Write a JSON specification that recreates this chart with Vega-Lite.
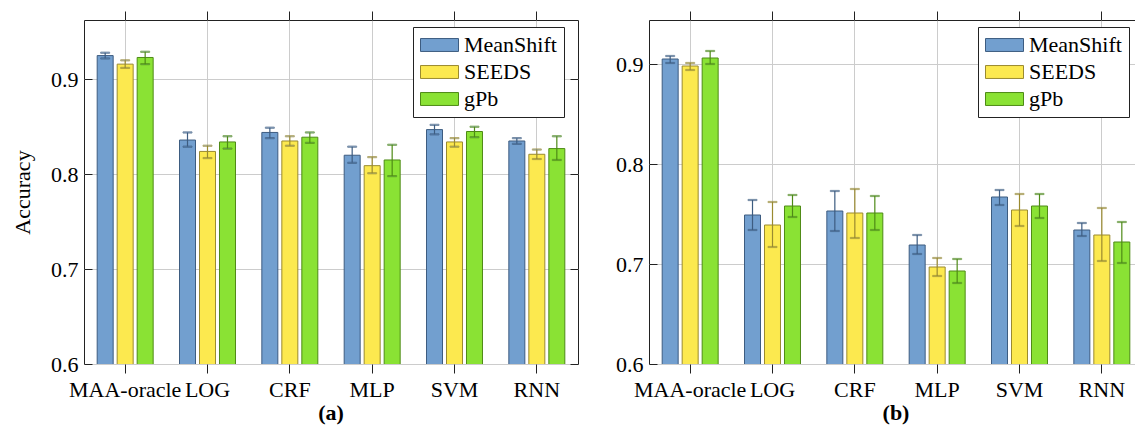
{
  "$schema": "https://vega.github.io/schema/vega-lite/v6.json",
  "padding": {"left": 11, "top": 10, "right": 0, "bottom": 0},
  "bounds": "flush",
  "spacing": 71,
  "datasets": {
    "d": [
      {"p": "a", "m": "MAA-oracle", "s": "MeanShift", "v": 0.925, "lo": 0.922, "hi": 0.928},
      {"p": "a", "m": "MAA-oracle", "s": "SEEDS", "v": 0.916, "lo": 0.912, "hi": 0.920},
      {"p": "a", "m": "MAA-oracle", "s": "gPb", "v": 0.923, "lo": 0.916, "hi": 0.929},
      {"p": "a", "m": "LOG", "s": "MeanShift", "v": 0.836, "lo": 0.829, "hi": 0.844},
      {"p": "a", "m": "LOG", "s": "SEEDS", "v": 0.824, "lo": 0.817, "hi": 0.830},
      {"p": "a", "m": "LOG", "s": "gPb", "v": 0.834, "lo": 0.827, "hi": 0.840},
      {"p": "a", "m": "CRF", "s": "MeanShift", "v": 0.844, "lo": 0.838, "hi": 0.849},
      {"p": "a", "m": "CRF", "s": "SEEDS", "v": 0.835, "lo": 0.830, "hi": 0.840},
      {"p": "a", "m": "CRF", "s": "gPb", "v": 0.839, "lo": 0.833, "hi": 0.844},
      {"p": "a", "m": "MLP", "s": "MeanShift", "v": 0.820, "lo": 0.812, "hi": 0.829},
      {"p": "a", "m": "MLP", "s": "SEEDS", "v": 0.809, "lo": 0.801, "hi": 0.818},
      {"p": "a", "m": "MLP", "s": "gPb", "v": 0.815, "lo": 0.798, "hi": 0.831},
      {"p": "a", "m": "SVM", "s": "MeanShift", "v": 0.847, "lo": 0.842, "hi": 0.852},
      {"p": "a", "m": "SVM", "s": "SEEDS", "v": 0.834, "lo": 0.829, "hi": 0.838},
      {"p": "a", "m": "SVM", "s": "gPb", "v": 0.845, "lo": 0.839, "hi": 0.850},
      {"p": "a", "m": "RNN", "s": "MeanShift", "v": 0.835, "lo": 0.832, "hi": 0.838},
      {"p": "a", "m": "RNN", "s": "SEEDS", "v": 0.821, "lo": 0.816, "hi": 0.826},
      {"p": "a", "m": "RNN", "s": "gPb", "v": 0.827, "lo": 0.815, "hi": 0.840},
      {"p": "b", "m": "MAA-oracle", "s": "MeanShift", "v": 0.905, "lo": 0.901, "hi": 0.908},
      {"p": "b", "m": "MAA-oracle", "s": "SEEDS", "v": 0.898, "lo": 0.894, "hi": 0.901},
      {"p": "b", "m": "MAA-oracle", "s": "gPb", "v": 0.906, "lo": 0.900, "hi": 0.913},
      {"p": "b", "m": "LOG", "s": "MeanShift", "v": 0.749, "lo": 0.734, "hi": 0.764},
      {"p": "b", "m": "LOG", "s": "SEEDS", "v": 0.739, "lo": 0.717, "hi": 0.762},
      {"p": "b", "m": "LOG", "s": "gPb", "v": 0.758, "lo": 0.747, "hi": 0.769},
      {"p": "b", "m": "CRF", "s": "MeanShift", "v": 0.753, "lo": 0.733, "hi": 0.773},
      {"p": "b", "m": "CRF", "s": "SEEDS", "v": 0.751, "lo": 0.726, "hi": 0.775},
      {"p": "b", "m": "CRF", "s": "gPb", "v": 0.751, "lo": 0.734, "hi": 0.768},
      {"p": "b", "m": "MLP", "s": "MeanShift", "v": 0.719, "lo": 0.710, "hi": 0.729},
      {"p": "b", "m": "MLP", "s": "SEEDS", "v": 0.697, "lo": 0.688, "hi": 0.706},
      {"p": "b", "m": "MLP", "s": "gPb", "v": 0.693, "lo": 0.681, "hi": 0.705},
      {"p": "b", "m": "SVM", "s": "MeanShift", "v": 0.767, "lo": 0.759, "hi": 0.774},
      {"p": "b", "m": "SVM", "s": "SEEDS", "v": 0.754, "lo": 0.738, "hi": 0.770},
      {"p": "b", "m": "SVM", "s": "gPb", "v": 0.758, "lo": 0.746, "hi": 0.770},
      {"p": "b", "m": "RNN", "s": "MeanShift", "v": 0.734, "lo": 0.728, "hi": 0.741},
      {"p": "b", "m": "RNN", "s": "SEEDS", "v": 0.729, "lo": 0.703, "hi": 0.756},
      {"p": "b", "m": "RNN", "s": "gPb", "v": 0.722, "lo": 0.701, "hi": 0.742}
    ]
  },
  "data": {"name": "d"},
  "resolve": {"scale": {"fill": "independent", "stroke": "independent"}, "legend": {"fill": "independent", "stroke": "independent"}},
  "hconcat": [
    {
      "width": 494,
      "height": 344,
      "title": {"text": "(a)", "orient": "bottom", "anchor": "middle", "font": "Liberation Serif", "fontSize": 22, "fontWeight": "bold", "color": "black", "offset": 3},
      "transform": [{"filter": "datum.p === 'a'"}],
      "resolve": {"axis": {"x": "independent", "y": "independent"}},
      "layer": [
        {
          "mark": {"type": "bar", "strokeWidth": 1, "clip": true},
          "encoding": {
            "x": {"field": "m", "type": "nominal", "sort": ["MAA-oracle", "LOG", "CRF", "MLP", "SVM", "RNN"], "title": null, "scale": {"paddingInner": 0.32, "paddingOuter": 0.16}, "axis": {"orient": "bottom", "labelAngle": 0, "tickSize": 9, "labelPadding": 6, "grid": true, "labelFont": "Liberation Serif"}},
            "xOffset": {"field": "s", "type": "nominal", "sort": ["MeanShift", "SEEDS", "gPb"], "scale": {"paddingInner": 0.2, "paddingOuter": 0}},
            "y": {"field": "v", "type": "quantitative", "title": "Accuracy", "scale": {"domain": [0.6, 0.9625], "zero": false, "nice": false}, "axis": {"orient": "left", "values": [0.6, 0.7, 0.8, 0.9], "format": ".1f", "tickSize": -8, "labelPadding": 14, "grid": true, "titlePadding": 16, "labelFont": "Liberation Serif"}},
            "fill": {"field": "s", "type": "nominal", "sort": ["MeanShift", "SEEDS", "gPb"], "scale": {"domain": ["MeanShift", "SEEDS", "gPb"], "range": ["#729fcf", "#fce94f", "#8ae234"]}, "legend": {}},
            "stroke": {"field": "s", "type": "nominal", "sort": ["MeanShift", "SEEDS", "gPb"], "scale": {"domain": ["MeanShift", "SEEDS", "gPb"], "range": ["#3d5c80", "#9a8a30", "#4e8a16"]}, "legend": {}}
          }
        },
        {
          "mark": {"type": "rule", "strokeWidth": 1.2},
          "encoding": {
            "x": {"field": "m", "type": "nominal", "sort": ["MAA-oracle", "LOG", "CRF", "MLP", "SVM", "RNN"], "axis": null},
            "xOffset": {"field": "s", "type": "nominal", "sort": ["MeanShift", "SEEDS", "gPb"]},
            "y": {"field": "lo", "type": "quantitative", "axis": null},
            "y2": {"field": "hi"},
            "stroke": {"field": "s", "type": "nominal", "sort": ["MeanShift", "SEEDS", "gPb"]}
          }
        },
        {
          "mark": {"type": "tick", "size": 9, "thickness": 1.2},
          "encoding": {
            "x": {"field": "m", "type": "nominal", "sort": ["MAA-oracle", "LOG", "CRF", "MLP", "SVM", "RNN"], "title": null, "axis": {"orient": "top", "labels": false, "tickSize": 9, "grid": false}},
            "xOffset": {"field": "s", "type": "nominal", "sort": ["MeanShift", "SEEDS", "gPb"]},
            "y": {"field": "lo", "type": "quantitative", "title": null, "axis": {"orient": "right", "labels": false, "values": [0.6, 0.7, 0.8, 0.9], "tickSize": -8, "grid": false}},
            "stroke": {"field": "s", "type": "nominal", "sort": ["MeanShift", "SEEDS", "gPb"]}
          }
        },
        {
          "mark": {"type": "tick", "size": 9, "thickness": 1.2},
          "encoding": {
            "x": {"field": "m", "type": "nominal", "sort": ["MAA-oracle", "LOG", "CRF", "MLP", "SVM", "RNN"], "axis": null},
            "xOffset": {"field": "s", "type": "nominal", "sort": ["MeanShift", "SEEDS", "gPb"]},
            "y": {"field": "hi", "type": "quantitative", "axis": null},
            "stroke": {"field": "s", "type": "nominal", "sort": ["MeanShift", "SEEDS", "gPb"]}
          }
        }
      ]
    },
    {
      "width": 494,
      "height": 344,
      "title": {"text": "(b)", "orient": "bottom", "anchor": "middle", "font": "Liberation Serif", "fontSize": 22, "fontWeight": "bold", "color": "black", "offset": 3},
      "transform": [{"filter": "datum.p === 'b'"}],
      "resolve": {"axis": {"x": "independent", "y": "independent"}},
      "layer": [
        {
          "mark": {"type": "bar", "strokeWidth": 1, "clip": true},
          "encoding": {
            "x": {"field": "m", "type": "nominal", "sort": ["MAA-oracle", "LOG", "CRF", "MLP", "SVM", "RNN"], "title": null, "scale": {"paddingInner": 0.32, "paddingOuter": 0.16}, "axis": {"orient": "bottom", "labelAngle": 0, "tickSize": 9, "labelPadding": 6, "grid": true, "labelFont": "Liberation Serif"}},
            "xOffset": {"field": "s", "type": "nominal", "sort": ["MeanShift", "SEEDS", "gPb"], "scale": {"paddingInner": 0.2, "paddingOuter": 0}},
            "y": {"field": "v", "type": "quantitative", "title": null, "scale": {"domain": [0.6, 0.944], "zero": false, "nice": false}, "axis": {"orient": "left", "values": [0.6, 0.7, 0.8, 0.9], "format": ".1f", "tickSize": -8, "labelPadding": 14, "grid": true, "labelFont": "Liberation Serif"}},
            "fill": {"field": "s", "type": "nominal", "sort": ["MeanShift", "SEEDS", "gPb"], "scale": {"domain": ["MeanShift", "SEEDS", "gPb"], "range": ["#729fcf", "#fce94f", "#8ae234"]}, "legend": {}},
            "stroke": {"field": "s", "type": "nominal", "sort": ["MeanShift", "SEEDS", "gPb"], "scale": {"domain": ["MeanShift", "SEEDS", "gPb"], "range": ["#3d5c80", "#9a8a30", "#4e8a16"]}, "legend": {}}
          }
        },
        {
          "mark": {"type": "rule", "strokeWidth": 1.2},
          "encoding": {
            "x": {"field": "m", "type": "nominal", "sort": ["MAA-oracle", "LOG", "CRF", "MLP", "SVM", "RNN"], "axis": null},
            "xOffset": {"field": "s", "type": "nominal", "sort": ["MeanShift", "SEEDS", "gPb"]},
            "y": {"field": "lo", "type": "quantitative", "axis": null},
            "y2": {"field": "hi"},
            "stroke": {"field": "s", "type": "nominal", "sort": ["MeanShift", "SEEDS", "gPb"]}
          }
        },
        {
          "mark": {"type": "tick", "size": 9, "thickness": 1.2},
          "encoding": {
            "x": {"field": "m", "type": "nominal", "sort": ["MAA-oracle", "LOG", "CRF", "MLP", "SVM", "RNN"], "title": null, "axis": {"orient": "top", "labels": false, "tickSize": 9, "grid": false}},
            "xOffset": {"field": "s", "type": "nominal", "sort": ["MeanShift", "SEEDS", "gPb"]},
            "y": {"field": "lo", "type": "quantitative", "title": null, "axis": {"orient": "right", "labels": false, "values": [0.6, 0.7, 0.8, 0.9], "tickSize": -8, "grid": false}},
            "stroke": {"field": "s", "type": "nominal", "sort": ["MeanShift", "SEEDS", "gPb"]}
          }
        },
        {
          "mark": {"type": "tick", "size": 9, "thickness": 1.2},
          "encoding": {
            "x": {"field": "m", "type": "nominal", "sort": ["MAA-oracle", "LOG", "CRF", "MLP", "SVM", "RNN"], "axis": null},
            "xOffset": {"field": "s", "type": "nominal", "sort": ["MeanShift", "SEEDS", "gPb"]},
            "y": {"field": "hi", "type": "quantitative", "axis": null},
            "stroke": {"field": "s", "type": "nominal", "sort": ["MeanShift", "SEEDS", "gPb"]}
          }
        }
      ]
    }
  ],
  "config": {
    "font": "Liberation Serif",
    "concat": {"spacing": 71},
    "view": {"stroke": "#222222", "strokeWidth": 1},
    "axis": {"domain": false, "tickColor": "#222222", "tickWidth": 1, "gridColor": "#cccccc", "gridWidth": 1, "labelColor": "black", "labelFont": "Liberation Serif", "labelFontSize": 22, "titleFont": "Liberation Serif", "titleFontSize": 22, "titleFontWeight": "normal", "titleColor": "black"},
    "legend": {"orient": "none", "legendX": 329, "legendY": 7, "title": null, "fillColor": "white", "strokeColor": "#222222", "padding": 7, "labelFont": "Liberation Serif", "labelFontSize": 22, "labelColor": "black", "labelOffset": 5, "symbolType": "M-1,-0.34H1V0.34H-1Z", "symbolSize": 1444, "symbolStrokeWidth": 1, "symbolOpacity": 1, "rowPadding": 5, "clipHeight": 22, "cornerRadius": 0}
  }
}
